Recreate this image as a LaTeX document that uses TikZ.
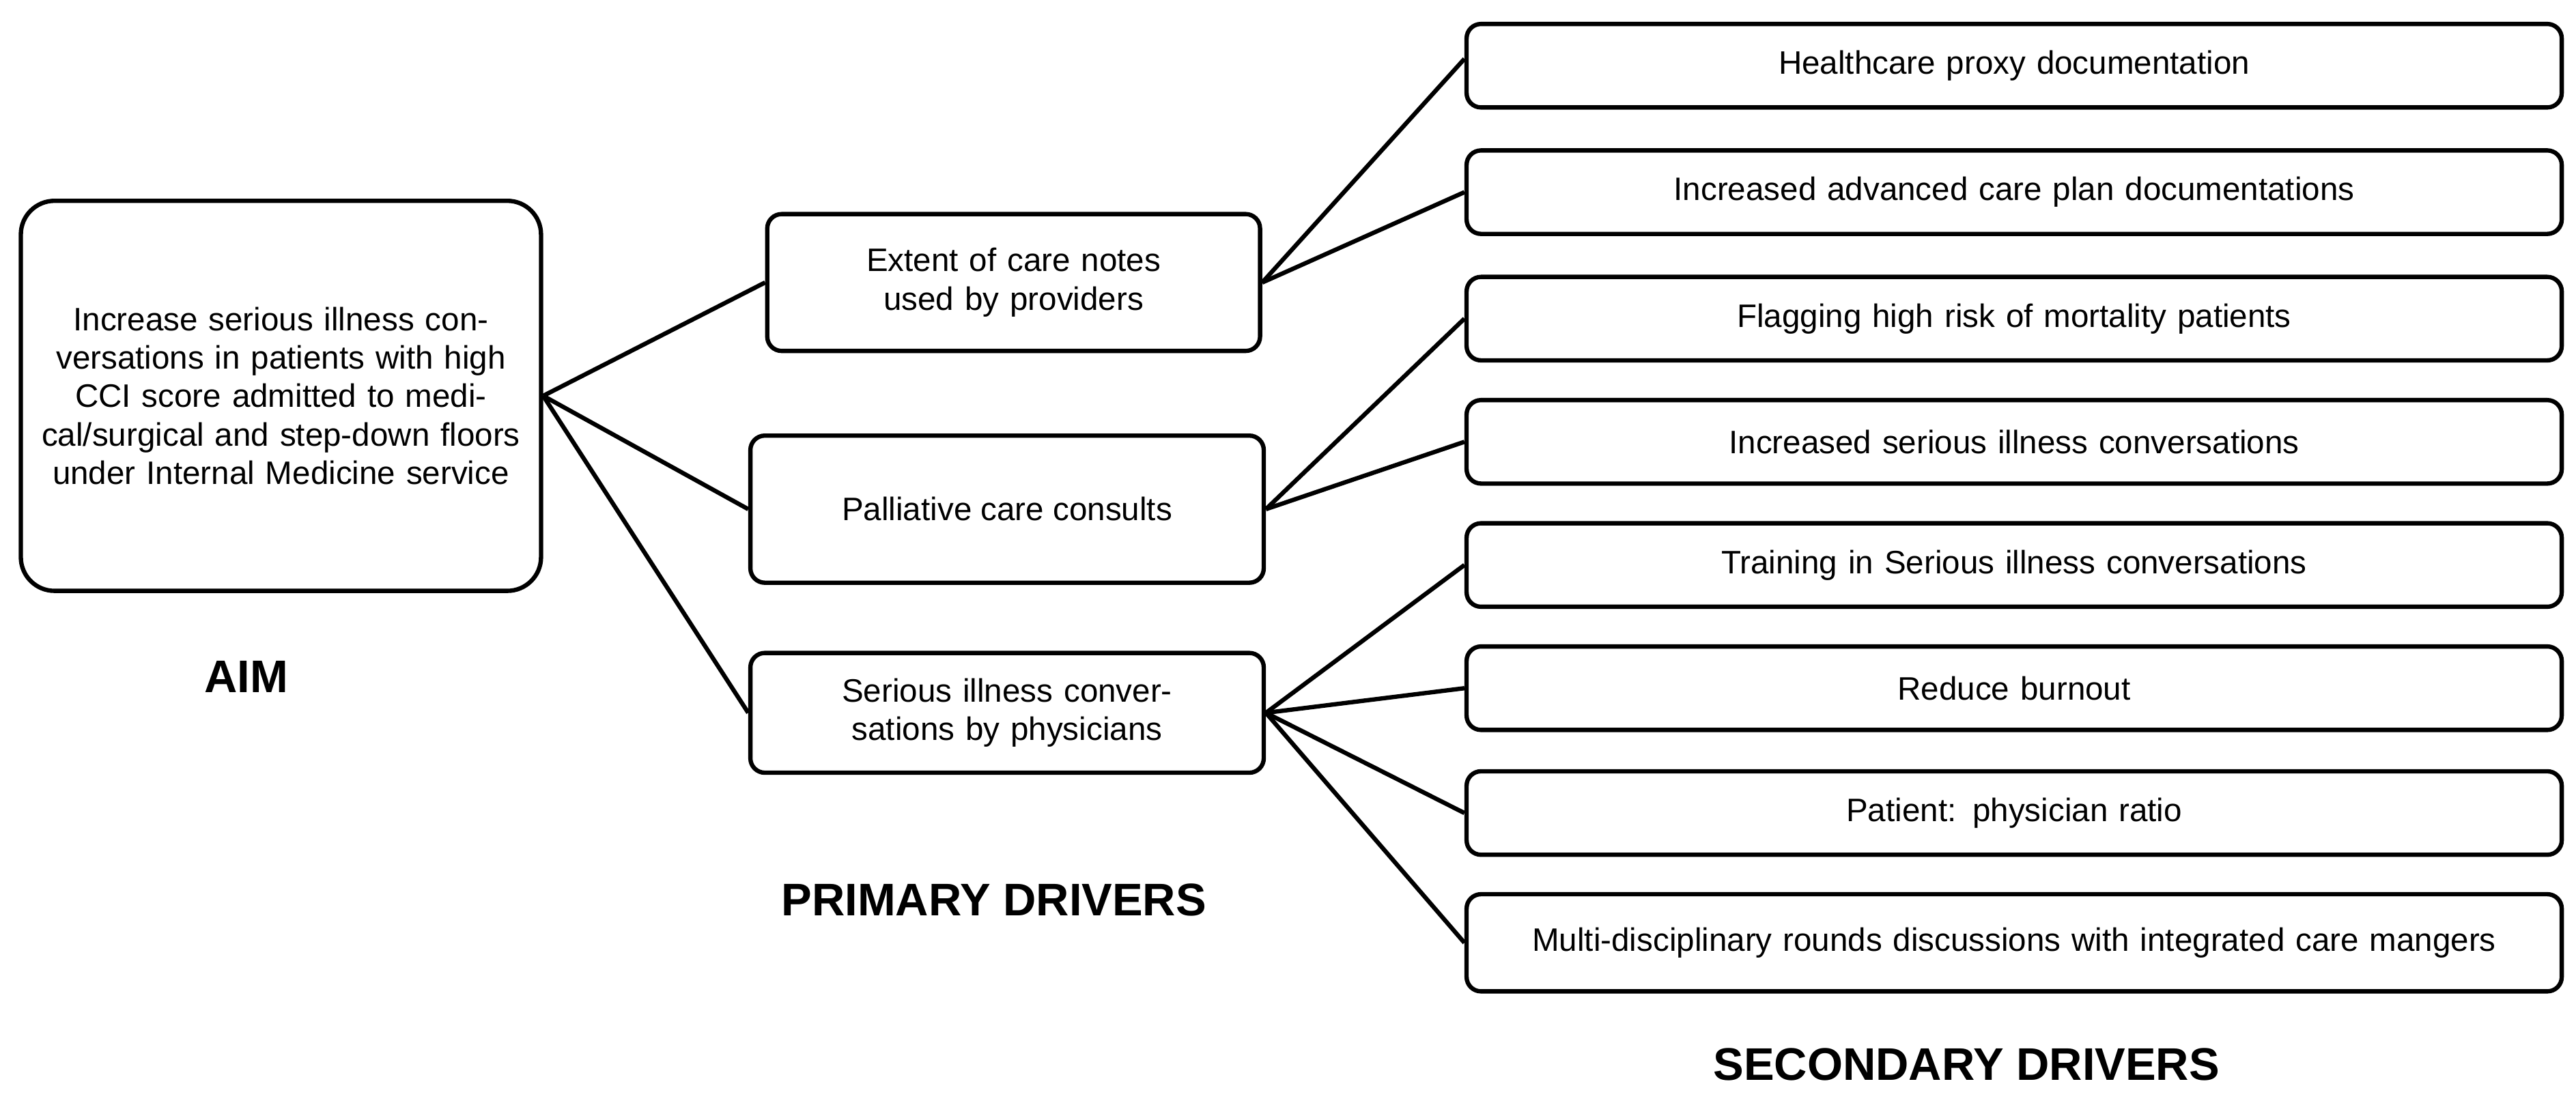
\documentclass[tikz,border=0pt]{standalone}
\usepackage{fontspec}
\setmainfont{Liberation Sans}
\usetikzlibrary{positioning}

\begin{document}
\begin{tikzpicture}[x=0.024cm, y=-0.024cm,
    driver/.style = {draw=black, line width=1.8pt, rounded corners=6pt,
        align=center, font=\fontsize{13.5}{16}\selectfont, inner sep=2pt},
    primary/.style = {driver, minimum width=7.2cm},
    secondary/.style = {driver, minimum width=16cm, minimum height=1.22cm, text width=15.6cm},
    heading/.style = {font=\fontsize{19}{22}\selectfont\bfseries},
    link/.style = {line width=1.8pt}]

  \useasboundingbox (0,0) rectangle (1568,670);

  \node [driver, rounded corners=14pt, minimum width=7.6cm, minimum height=5.7cm,
         text width=7cm] (aim) at (171,241)
    {Increase serious illness conversations in patients with high CCI score admitted to medical/surgical and step-down floors under Internal Medicine service};

  \node [primary, minimum height=2cm, text width=6.6cm] (notes) at (617,172)
    {Extent of care notes used by providers};
  \node [primary, minimum width=7.5cm, minimum height=2.15cm] (consults) at (613,310)
    {Palliative care consults};
  \node [primary, minimum width=7.5cm, minimum height=1.75cm, text width=7cm] (talks) at (613,434)
    {Serious illness conversations by physicians};

  \node [secondary] (proxy) at (1226,40) {Healthcare proxy documentation};
  \node [secondary] (plan) at (1226,117) {Increased advanced care plan documentations};
  \node [secondary] (flag) at (1226,194) {Flagging high risk of mortality patients};
  \node [secondary] (conv) at (1226,269) {Increased serious illness conversations};
  \node [secondary] (train) at (1226,344) {Training in Serious illness conversations};
  \node [secondary] (burn) at (1226,419) {Reduce burnout};
  \node [secondary] (ratio) at (1226,495) {Patient: physician ratio};
  \node [secondary, minimum height=1.42cm] (rounds) at (1226,574)
    {Multi-disciplinary rounds discussions with integrated care mangers};

  \node [heading] (aimlabel) at (150,412) {AIM};
  \node [heading] (primlabel) at (605,548) {PRIMARY DRIVERS};
  \node [heading] (seclabel) at (1197,648) {SECONDARY DRIVERS};

  \draw [link] (aim.east) -- (notes.west);
  \draw [link] (aim.east) -- (consults.west);
  \draw [link] (aim.east) -- (talks.west);

  \draw [link] (notes.east) -- ([yshift=0.1cm]proxy.west);
  \draw [link] (notes.east) -- (plan.west);
  \draw [link] (consults.east) -- (flag.west);
  \draw [link] (consults.east) -- (conv.west);
  \foreach \s in {train, burn, ratio, rounds}
    \draw [link] (talks.east) -- (\s.west);
\end{tikzpicture}
\end{document}
